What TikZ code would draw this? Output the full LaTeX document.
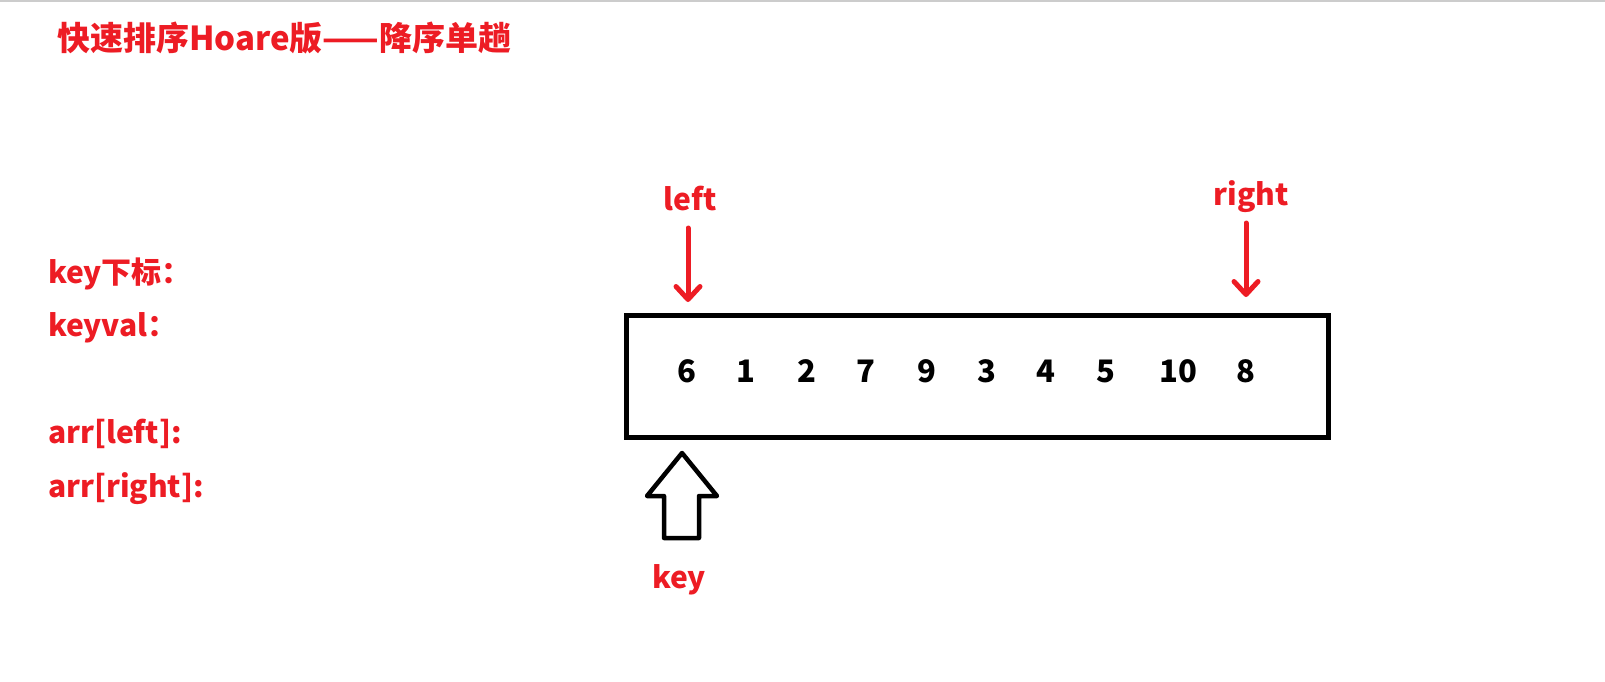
\documentclass[tikz,border=0pt]{standalone}
\usepackage{fontspec}
\usepackage{xcolor}
\usepackage{tikz}
\usetikzlibrary{arrows.meta}
\newfontfamily\cjk{Noto Sans CJK SC}
\definecolor{paintred}{RGB}{237,28,36}
\tikzset{
  lbl/.style={text=paintred, font=\cjk\bfseries\fontsize{30}{30}\selectfont, inner sep=0pt},
  num/.style={font=\cjk\bfseries\fontsize{31}{31}\selectfont, inner sep=0pt, anchor=base},
  ptr/.style={draw=paintred, line width=5pt, line cap=round, -{Straight Barb[length=13pt,width=24pt,line cap=round,line join=round]}},
}
\begin{document}
\begin{tikzpicture}[x=1pt,y=-1pt]
\useasboundingbox (0,0) rectangle (1605,681);
\draw[gray!40, line width=1.5pt] (0,0.75) -- (1605,0.75);

% title
\node[lbl, font=\cjk\bfseries\fontsize{33}{33}\selectfont, anchor=base west] (title) at (57,50) {快速排序Hoare版——降序单趟};

% labels on the left
\node[lbl, anchor=base west] (keyidx) at (48,283) {key下标：};
\node[lbl, anchor=base west] (keyval) at (48,336) {keyval：};
\node[lbl, anchor=base west] (arrl) at (48,443) {arr[left]:};
\node[lbl, anchor=base west] (arrr) at (48,497) {arr[right]:};

% the array
\draw[line width=5pt] (626,315) rectangle (1328,437);
\foreach \v/\x [count=\i] in {6/687,1/746,2/807,7/866,9/927,3/987,4/1046,5/1106,10/1178,8/1246}
  \node[num] (n\i) at (\x,382) {\v};

% left and right pointers
\node[lbl, anchor=base] (lft) at (690,210) {left};
\node[lbl, anchor=base] (rgt) at (1251,205) {right};
\coordinate (ltop) at (688,228);
\coordinate (ltip) at (688,302);
\coordinate (rtop) at (1246,223);
\coordinate (rtip) at (1246,297);
\draw[ptr] (ltop) -- (ltip);
\draw[ptr] (rtop) -- (rtip);

% key arrow
\draw[line width=4.5pt, line join=round] (682,453) -- (717,496) -- (699,496) -- (699,538)
  -- (664,538) -- (664,496) -- (647,496) -- cycle;
\node[lbl, anchor=base] (key) at (679,588) {key};
\end{tikzpicture}
\end{document}
